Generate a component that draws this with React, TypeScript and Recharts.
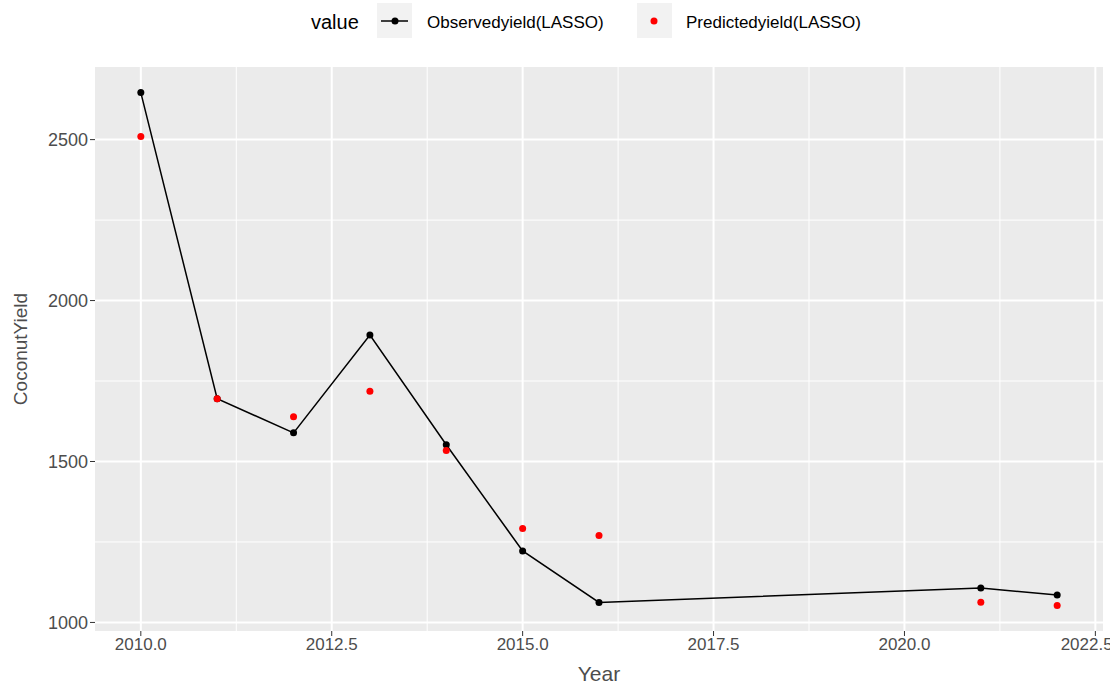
import React from 'react';
import { LineChart, Line, XAxis, YAxis, CartesianGrid, Legend } from 'recharts';

const years = [2010, 2011, 2012, 2013, 2014, 2015, 2016, 2021, 2022];
const observed = [2646, 1695, 1589, 1893, 1552, 1222, 1062, 1107, 1085];
const predicted = [2510, 1695, 1639, 1718, 1534, 1292, 1270, 1063, 1053];
const xTicks = [2010, 2012.5, 2015, 2017.5, 2020, 2022.5];
const xMinor = [2011.25, 2013.75, 2016.25, 2018.75, 2021.25];
const yTicks = [1000, 1500, 2000, 2500];
const yMinor = [1250, 1750, 2250];
const seriesNames = ['Observedyield(LASSO)', 'Predictedyield(LASSO)'];

const data = years.map((y, i) => ({ year: y, observed: observed[i], predicted: predicted[i] }));

const FONT = '"Liberation Sans", Arial, sans-serif';
const TICK_COLOR = '#4d4d4d';

const LegendContent = () => (
  <svg width={1110} height={45} style={{ display: 'block' }}>
    <text x={311} y={29} fontSize={20} fontFamily={FONT} fill="#000">value</text>
    <rect x={377} y={3} width={35} height={35} fill="#f2f2f2" />
    <line x1={381} x2={408} y1={21} y2={21} stroke="#000" strokeWidth={1.5} />
    <circle cx={395} cy={21} r={3.5} fill="#000" />
    <text x={427} y={28} fontSize={17} fontFamily={FONT} fill="#000">{seriesNames[0]}</text>
    <rect x={637} y={3} width={35} height={35} fill="#f2f2f2" />
    <circle cx={654} cy={21} r={3.5} fill="#ff0000" />
    <text x={686} y={28} fontSize={17} fontFamily={FONT} fill="#000">{seriesNames[1]}</text>
  </svg>
);

export default function App() {
  return (
    <div style={{ position: 'absolute', left: 0, top: 0, background: '#fff' }}>
      <LineChart
        width={1110}
        height={683}
        data={data}
        margin={{ top: 22, right: 7, bottom: 0, left: 0 }}
      >
        <CartesianGrid
          fill="#ebebeb"
          stroke="#ffffff"
          strokeWidth={1}
          horizontalValues={yMinor}
          verticalValues={xMinor}
        />
        <CartesianGrid
          stroke="#ffffff"
          strokeWidth={2}
          horizontalValues={yTicks}
          verticalValues={xTicks}
        />
        <XAxis
          dataKey="year"
          type="number"
          domain={[2009.4, 2022.6]}
          ticks={xTicks}
          allowDataOverflow
          tickFormatter={(v: number) => v.toFixed(1)}
          axisLine={false}
          tickLine={{ stroke: '#333333' }}
          tickSize={5}
          height={52}
          tick={{ fill: TICK_COLOR, fontSize: 17, fontFamily: FONT }}
          label={{ value: 'Year', position: 'insideBottom', offset: 2, fill: '#4d4d4d', fontSize: 21, fontFamily: FONT }}
        />
        <YAxis
          type="number"
          domain={[973.4, 2725.6]}
          ticks={yTicks}
          allowDataOverflow
          axisLine={false}
          tickLine={{ stroke: '#333333' }}
          tickSize={5}
          width={95}
          tick={{ fill: TICK_COLOR, fontSize: 18, fontFamily: FONT }}
          label={{ value: 'CoconutYield', angle: -90, position: 'insideLeft', offset: 20, fill: '#4d4d4d', fontSize: 19, fontFamily: FONT, style: { textAnchor: 'middle' } }}
        />
        <Legend verticalAlign="top" content={LegendContent} wrapperStyle={{ position: 'absolute', top: 0, left: 0, width: 1110 }} />
        <Line
          dataKey="observed"
          name={seriesNames[0]}
          stroke="#000000"
          strokeWidth={1.5}
          dot={{ r: 3.5, fill: '#000000', stroke: '#000000', strokeWidth: 0 }}
          activeDot={false}
          isAnimationActive={false}
        />
        <Line
          dataKey="predicted"
          name={seriesNames[1]}
          stroke="none"
          dot={{ r: 3.5, fill: '#ff0000', stroke: '#ff0000', strokeWidth: 0 }}
          activeDot={false}
          isAnimationActive={false}
        />
      </LineChart>
    </div>
  );
}
